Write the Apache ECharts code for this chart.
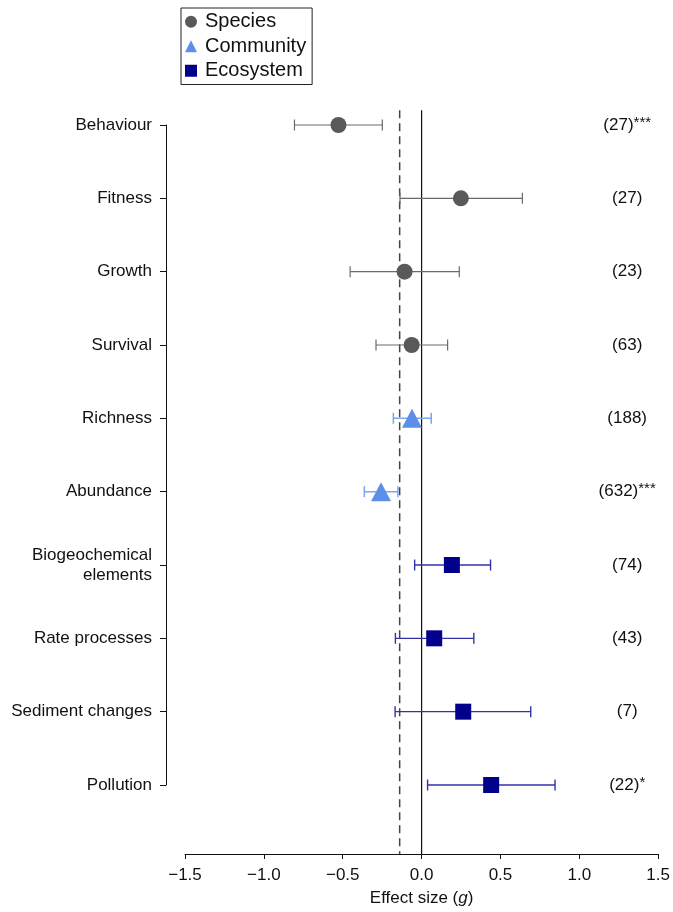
<!DOCTYPE html>
<html>
<head>
<meta charset="utf-8">
<script src="https://cdn.jsdelivr.net/npm/echarts@6/dist/echarts.min.js"></script>
<style>
html,body{margin:0;padding:0;background:#fff;}
#chart{width:673px;height:912px;}
</style>
</head>
<body>
<div id="chart"></div>
<script>
// ---- data ----
const categories = ['Behaviour','Fitness','Growth','Survival','Richness','Abundance','Biogeochemical\nelements','Rate processes','Sediment changes','Pollution'];
const groups = ['Species','Species','Species','Species','Community','Community','Ecosystem','Ecosystem','Ecosystem','Ecosystem'];
const effect = [-0.527, 0.249, -0.108, -0.063, -0.061, -0.257, 0.192, 0.080, 0.264, 0.441];
const lower  = [-0.806, -0.137, -0.453, -0.289, -0.179, -0.363, -0.044, -0.166, -0.168, 0.038];
const upper  = [-0.249, 0.639, 0.239, 0.165, 0.061, -0.150, 0.437, 0.331, 0.692, 0.846];
const counts = ['(27)','(27)','(23)','(63)','(188)','(632)','(74)','(43)','(7)','(22)'];
const stars  = ['***','','','','','***','','','','*'];
const overallEffect = -0.139;
const xTicks = [-1.5, -1.0, -0.5, 0.0, 0.5, 1.0, 1.5];

const groupStyle = {
  Species:   {color:'#595959', bar:'#6a6a6a', symbol:'circle',   size:16, bw:1.2},
  Community: {color:'#5b8fe8', bar:'#7aa6ee', symbol:'triangle', size:[20,19], bw:1.5},
  Ecosystem: {color:'#00008b', bar:'#3333a6', symbol:'rect',     size:16, bw:1.4}
};
const groupNames = ['Species','Community','Ecosystem'];

const chart = echarts.init(document.getElementById('chart'));
const FONT = 'Liberation Sans, Arial, Helvetica, sans-serif';

const series = [];
// reference lines
series.push({
  type:'custom', name:'ref', silent:true, clip:false, z:1,
  data:[[overallEffect, 1], [0, 0]],
  encode:{x:0},
  renderItem:function(params, api){
    const v = api.value(0);
    const top = api.coord([v, -0.2]);
    const bot = api.coord([v, 9.94]);
    const dashed = api.value(1) === 1;
    return {type:'line', shape:{x1:top[0], y1:top[1], x2:bot[0], y2:bot[1]},
      style:{stroke: dashed ? '#444' : '#111', lineWidth: dashed ? 1.5 : 1.2, lineDash: dashed ? [8,5] : null}};
  }
});
groupNames.forEach(function(g){
  const idx = [];
  groups.forEach(function(gg,i){ if(gg===g) idx.push(i); });
  const st = groupStyle[g];
  series.push({
    type:'custom', name:g+' CI', silent:true, clip:false, z:2,
    data: idx.map(function(i){ return [lower[i], upper[i], i]; }),
    encode:{x:[0,1], y:2},
    renderItem:function(params, api){
      const y = api.value(2);
      const a = api.coord([api.value(0), y]);
      const b = api.coord([api.value(1), y]);
      const h = 5.5;
      const s = {stroke: st.bar, lineWidth: st.bw};
      return {type:'group', children:[
        {type:'line', shape:{x1:a[0], y1:a[1], x2:b[0], y2:b[1]}, style:s},
        {type:'line', shape:{x1:a[0], y1:a[1]-h, x2:a[0], y2:a[1]+h}, style:s},
        {type:'line', shape:{x1:b[0], y1:b[1]-h, x2:b[0], y2:b[1]+h}, style:s}
      ]};
    }
  });
  series.push({
    type:'scatter', name:g, z:3,
    symbol: st.symbol, symbolSize: st.size,
    itemStyle:{color: st.color, opacity:1},
    data: idx.map(function(i){ return [effect[i], i]; })
  });
});

const option = {
  backgroundColor:'#fff',
  animation:false,
  textStyle:{fontFamily:FONT},
  legend:{
    orient:'vertical', left:181, top:8,
    data:[{name:'Species', icon:'circle'},{name:'Community', icon:'triangle'},{name:'Ecosystem', icon:'rect'}],
    itemWidth:12, itemHeight:12, itemGap:3,
    borderColor:'#222', borderWidth:1, padding:[3,6,3,4],
    textStyle:{fontSize:20, color:'#111', fontFamily:FONT, lineHeight:21.5, padding:[0,0,0,3]}
  },
  grid:{left:185, right:14, top:125, bottom:126, containLabel:false},
  xAxis:{
    type:'value', min:-1.5, max:1.5, interval:0.5, offset:69,
    axisLine:{onZero:false, lineStyle:{color:'#111', width:1}},
    axisTick:{show:true, length:5, lineStyle:{color:'#111'}},
    splitLine:{show:false},
    axisLabel:{fontSize:17, color:'#111', margin:13,
      formatter:function(v){
        const t = xTicks.find(function(x){ return Math.abs(x-v)<1e-9; });
        if(t===undefined) return '';
        return (t<0 ? '\u2212' : '') + Math.abs(t).toFixed(1);
      }},
    name:'{a|Effect size (}{b|g}{a|)}', nameLocation:'middle', nameGap:36,
    nameTextStyle:{rich:{a:{fontSize:17, color:'#111', fontFamily:FONT}, b:{fontSize:17, color:'#111', fontStyle:'italic', fontFamily:FONT}}}
  },
  yAxis:[{
    type:'value', min:0, max:9, interval:1, inverse:true, offset:19,
    axisLine:{show:true, onZero:false, lineStyle:{color:'#111', width:1}},
    axisTick:{show:true, length:6, lineStyle:{color:'#111'}},
    splitLine:{show:false},
    axisLabel:{fontSize:17, color:'#111', margin:14, lineHeight:20, align:'right',
      formatter:function(v){ return categories[Math.round(v)] || ''; }}
  },{
    type:'value', min:0, max:9, interval:1, inverse:true, position:'right', offset:-31,
    axisLine:{show:false, onZero:false}, axisTick:{show:false}, splitLine:{show:false},
    axisLabel:{margin:0, align:'center',
      formatter:function(v){
        const i = Math.round(v);
        return '{n|' + counts[i] + '}' + (stars[i] ? '{s|' + stars[i] + '}' : '');
      },
      rich:{n:{fontSize:17, color:'#111', lineHeight:20, fontFamily:FONT}, s:{fontSize:15, color:'#111', verticalAlign:'top', lineHeight:12, fontFamily:FONT}}
    }
  }],
  series: series
};
chart.setOption(option);
</script>
</body>
</html>
